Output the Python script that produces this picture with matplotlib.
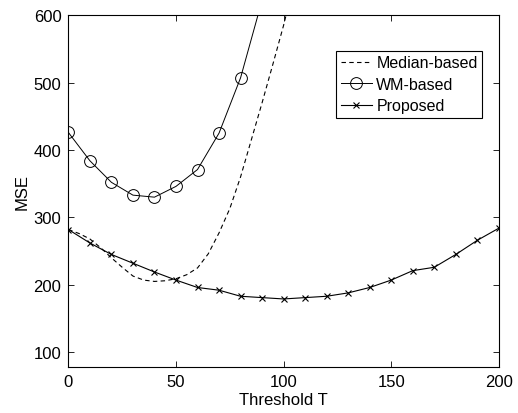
import numpy as np
import matplotlib
matplotlib.use("Agg")
import matplotlib.pyplot as plt

plt.rcParams['font.family'] = ['Liberation Sans', 'DejaVu Sans']

# threshold values
t_median = [0, 5, 10, 15, 20, 25, 30, 35, 40, 45, 50, 55, 60, 65, 70, 75,
            80, 85, 90, 95, 100, 105]
mse_median = [282, 276, 268, 255, 240, 226, 213, 207, 205, 206, 209, 215,
              225, 246, 277, 313, 360, 415, 470, 527, 585, 650]

t_wm = [0, 10, 20, 30, 40, 50, 60, 70, 80, 90, 100]
mse_wm = [426, 384, 352, 333, 330, 346, 371, 425, 507, 622, 760]

t_prop = list(range(0, 201, 10))
mse_prop = [282, 262, 245, 232, 219, 207, 196, 192, 183, 181, 179, 181, 183,
            188, 196, 207, 221, 226, 245, 266, 284]

fig = plt.figure(figsize=(5.18, 4.14), dpi=100)
ax = fig.add_axes([0.132, 0.111, 0.831, 0.850])

ax.plot(t_median, mse_median, 'k--', lw=0.8, dashes=(4, 3), label='Median-based')
ax.plot(t_wm, mse_wm, 'k-', lw=0.7, marker='o', ms=8.5, mfc='none', mew=0.7,
        label='WM-based')
ax.plot(t_prop, mse_prop, 'k-', lw=0.8, marker='x', ms=4.5, mew=0.8,
        label='Proposed')

ax.set_xlim(0, 200)
ax.set_ylim(78, 600)
ax.set_xticks([0, 50, 100, 150, 200])
ax.set_yticks([100, 200, 300, 400, 500, 600])
ax.tick_params(direction='in', top=True, right=True, labelsize=12, length=4,
               width=0.6, pad=5)
for s in ax.spines.values():
    s.set_linewidth(0.8)

ax.set_xlabel('Threshold T', fontsize=12, labelpad=2)
ax.set_ylabel('MSE', fontsize=12, labelpad=3)

leg = ax.legend(loc='upper right', bbox_to_anchor=(0.962, 0.899), fontsize=11.5,
                fancybox=False, framealpha=1, edgecolor='k', borderaxespad=0,
                handlelength=1.9, handletextpad=0.3, labelspacing=0.4,
                borderpad=0.3)
leg.get_frame().set_linewidth(0.8)

fig.savefig('out.png', dpi=100)
